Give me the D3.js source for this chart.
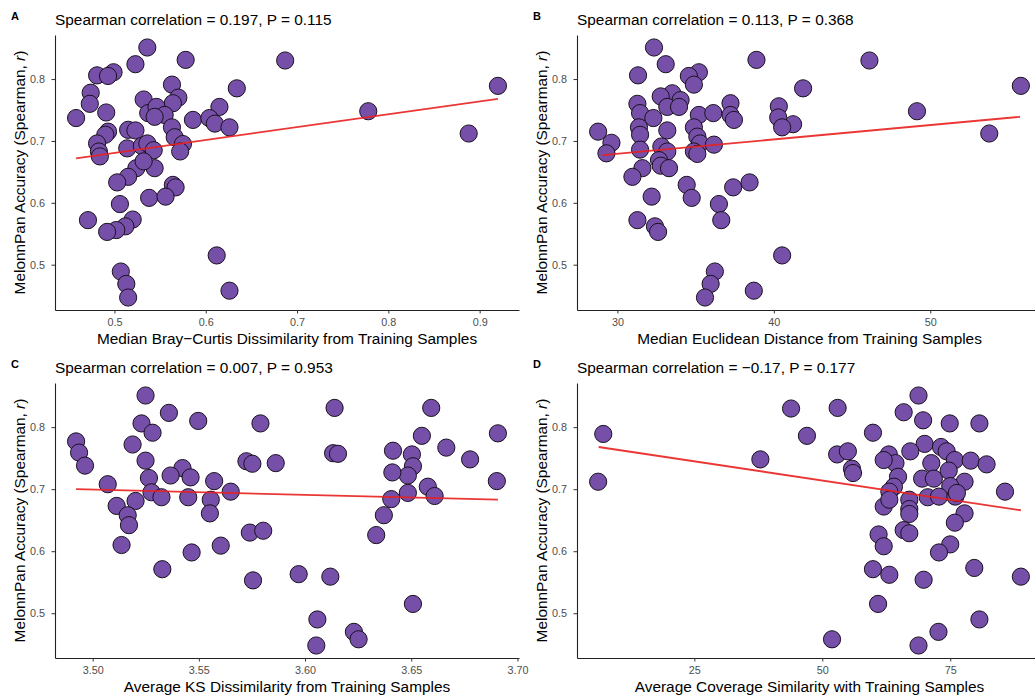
<!DOCTYPE html>
<html>
<head>
<meta charset="utf-8">
<script src="https://cdn.jsdelivr.net/npm/d3@7"></script>
<style>
body{margin:0;background:#fff;}
svg{font-family:"Liberation Sans",Arial,sans-serif;}
.tick text{fill:#4d4d4d;font-size:10.8px;}
.tick line{stroke:#333;stroke-width:1;}
.domain{stroke:#222;stroke-width:1.1;}
.dot{fill:#7650a8;stroke:#1a1020;stroke-width:1;}
.fit{stroke:#e8201f;stroke-width:1.8;fill:none;opacity:0.9;}
.ptitle{font-size:15.4px;fill:#000;}
.atitle{font-size:15.4px;fill:#000;}
.letter{font-size:11px;font-weight:bold;fill:#000;}
</style>
</head>
<body>
<svg></svg>
<script>
// values: [x, accuracy]
var brayPoints=[[0.536,0.851],[0.578,0.831],[0.687,0.830],[0.523,0.824],[0.481,0.806],[0.499,0.811],[0.493,0.805],
	[0.920,0.789],[0.563,0.791],[0.634,0.785],[0.570,0.770],[0.474,0.778],[0.473,0.760],[0.532,0.767],[0.564,0.761],
	[0.491,0.746],[0.458,0.737],[0.537,0.745],[0.546,0.755],[0.555,0.742],[0.544,0.739],[0.586,0.734],[0.615,0.755],
	[0.604,0.737],[0.610,0.728],[0.626,0.722],[0.778,0.748],[0.888,0.712],[0.563,0.722],[0.493,0.715],[0.490,0.710],
	[0.515,0.718],[0.523,0.717],[0.566,0.706],[0.575,0.695],[0.572,0.683],[0.481,0.696],[0.483,0.683],[0.484,0.675],
	[0.514,0.688],[0.530,0.692],[0.536,0.696],[0.543,0.685],[0.524,0.656],[0.544,0.656],[0.532,0.667],[0.515,0.642],
	[0.503,0.633],[0.564,0.629],[0.567,0.625],[0.538,0.608],[0.556,0.610],[0.506,0.598],[0.471,0.572],[0.520,0.573],
	[0.512,0.562],[0.502,0.556],[0.492,0.553],[0.612,0.515],[0.507,0.489],[0.513,0.469],[0.515,0.447],[0.626,0.458]];
var euclidPoints=[[32.34,0.851],[38.89,0.831],[46.11,0.830],[33.09,0.824],[31.32,0.806],[35.21,0.811],[34.57,0.805],
	[34.89,0.791],[55.79,0.789],[41.87,0.785],[33.51,0.777],[34.04,0.766],[32.77,0.772],[33.19,0.755],[33.94,0.755],
	[31.28,0.760],[31.45,0.745],[32.30,0.737],[35.21,0.742],[36.13,0.745],[37.23,0.761],[37.23,0.742],[37.45,0.734],
	[40.32,0.756],[40.28,0.738],[41.23,0.727],[40.53,0.722],[49.15,0.748],[53.77,0.712],[28.77,0.715],[29.62,0.697],
	[29.30,0.680],[31.38,0.722],[31.45,0.710],[33.19,0.717],[34.89,0.722],[35.11,0.707],[35.28,0.696],[36.17,0.694],
	[31.45,0.686],[32.81,0.691],[33.19,0.683],[34.89,0.683],[35.11,0.679],[32.66,0.669],[32.77,0.660],[33.30,0.656],
	[31.60,0.656],[30.96,0.642],[34.43,0.629],[34.75,0.608],[32.19,0.610],[37.40,0.625],[38.45,0.633],[36.49,0.598],
	[36.64,0.572],[31.28,0.572],[32.40,0.562],[32.60,0.553],[40.53,0.515],[36.23,0.489],[35.96,0.469],[35.60,0.447],
	[38.72,0.458]];
var ksPoints=[[3.5249,0.851],[3.6139,0.831],[3.6594,0.831],[3.5359,0.823],[3.5497,0.810],[3.5230,0.806],[3.5790,0.806],
	[3.5282,0.791],[3.6908,0.790],[3.5188,0.772],[3.6550,0.786],[3.4922,0.777],[3.4936,0.759],[3.4964,0.738],[3.6665,0.767],
	[3.6777,0.748],[3.6132,0.758],[3.6155,0.757],[3.6414,0.762],[3.6503,0.756],[3.6508,0.737],[3.6484,0.722],[3.6411,0.727],
	[3.5249,0.746],[3.5724,0.745],[3.5752,0.741],[3.5862,0.742],[3.5423,0.734],[3.5461,0.719],[3.5367,0.722],[3.5265,0.718],
	[3.5572,0.713],[3.5071,0.708],[3.5277,0.695],[3.5324,0.687],[3.5202,0.681],[3.5450,0.687],[3.5556,0.683],[3.5650,0.696],
	[3.5113,0.673],[3.5165,0.658],[3.5171,0.642],[3.5552,0.661],[3.6484,0.694],[3.6578,0.704],[3.6610,0.689],[3.6406,0.684],
	[3.6371,0.658],[3.6335,0.626],[3.6903,0.713],[3.5136,0.610],[3.5740,0.630],[3.5803,0.633],[3.5603,0.609],[3.5466,0.598],
	[3.5328,0.571],[3.5755,0.553],[3.5970,0.563],[3.6119,0.559],[3.6508,0.515],[3.6058,0.490],[3.6053,0.448],[3.6230,0.470],
	[3.6252,0.458]];
var coveragePoints=[[68.8,0.851],[43.9,0.830],[53.0,0.831],[65.9,0.824],[69.7,0.811],[74.9,0.806],[80.7,0.806],
	[7.2,0.789],[47.0,0.786],[59.9,0.791],[70.0,0.773],[52.9,0.756],[55.0,0.761],[37.9,0.748],[6.2,0.712],
	[55.8,0.733],[56.0,0.726],[63.0,0.756],[64.3,0.742],[62.0,0.747],[67.2,0.761],[73.2,0.768],[74.3,0.761],
	[75.9,0.747],[71.3,0.742],[79.0,0.746],[82.1,0.740],[64.8,0.720],[69.5,0.717],[71.8,0.717],[74.7,0.730],
	[77.8,0.712],[75.0,0.705],[85.7,0.696],[64.0,0.704],[63.1,0.696],[62.0,0.672],[63.1,0.683],[67.0,0.683],
	[70.6,0.687],[72.8,0.688],[76.0,0.688],[76.3,0.694],[67.0,0.668],[67.0,0.660],[77.8,0.661],[75.9,0.646],
	[65.9,0.634],[67.0,0.629],[61.0,0.627],[62.0,0.608],[75.0,0.611],[72.8,0.598],[59.9,0.571],[63.1,0.562],
	[69.8,0.554],[79.7,0.573],[88.8,0.559],[60.9,0.515],[80.7,0.490],[72.7,0.470],[51.9,0.458],[68.8,0.448]];

// fitted lines, end points
var brayFit=[[0.458,0.672],[0.920,0.768]];
var euclidFit=[[29.04,0.677],[55.74,0.739]];
var ksFit=[[3.4922,0.700],[3.6908,0.683]];
var coverageFit=[[6.3,0.768],[88.8,0.666]];

var yTicks=[0.5,0.6,0.7,0.8];
var brayTicks=[0.5,0.6,0.7,0.8,0.9];
var euclidTicks=[30,40,50];
var ksTicks=[3.50,3.55,3.60,3.65,3.70];
var coverageTicks=[25,50,75];

var width=1035,height=700;
var svg=d3.select("svg").attr("width",width).attr("height",height);

function expand(ext) {
	var pad=(ext[1]-ext[0])*0.05;
	return [ext[0]-pad,ext[1]+pad];
}

function drawPanel(p) {
	var x=d3.scaleLinear()
		.domain(expand(d3.extent(p.points,function(d) {return d[0];})))
		.range([p.left,p.right]);
	var y=d3.scaleLinear()
		.domain(expand(d3.extent(p.points,function(d) {return d[1];})))
		.range([p.bottom,p.top]);

	svg.append("g")
		.attr("transform","translate(0,"+p.bottom+")")
		.call(d3.axisBottom(x).tickValues(p.ticks).tickFormat(p.fmt).tickSize(3.5).tickSizeOuter(0).tickPadding(5));
	svg.append("g")
		.attr("transform","translate("+p.left+",0)")
		.call(d3.axisLeft(y).tickValues(yTicks).tickFormat(d3.format(".1f")).tickSize(3.5).tickSizeOuter(0).tickPadding(6.5));

	svg.append("g").selectAll(".dot")
		.data(p.points)
		.enter()
		.append("circle")
		.classed("dot",true)
		.attr("cx",function(d) {return x(d[0]);})
		.attr("cy",function(d) {return y(d[1]);})
		.attr("r",8.6);

	svg.append("path")
		.datum(p.fit)
		.classed("fit",true)
		.attr("d",d3.line().x(function(d) {return x(d[0]);}).y(function(d) {return y(d[1]);}));

	svg.append("text").classed("letter",true)
		.attr("x",p.left-44).attr("y",p.top-15)
		.text(p.letter);
	svg.append("text").classed("ptitle",true)
		.attr("x",p.left).attr("y",p.top-10)
		.text(p.title);
	svg.append("text").classed("atitle",true)
		.attr("x",(p.left+Math.min(p.right,width))/2 + (p.right>width ? (p.right-width)/2 : 0)).attr("y",p.bottom+33.5)
		.attr("text-anchor","middle")
		.text(p.xlab);

	var yl=svg.append("text").classed("atitle",true)
		.attr("transform","translate("+(p.left-30)+","+((p.top+p.bottom)/2)+") rotate(-90)")
		.attr("text-anchor","middle");
	yl.append("tspan").text("MelonnPan Accuracy (Spearman, ");
	yl.append("tspan").style("font-style","italic").text("r");
	yl.append("tspan").text(")");
}

var panels=[
	{letter:"A",left:55,right:519,top:35,bottom:310,points:brayPoints,fit:brayFit,ticks:brayTicks,fmt:d3.format(".1f"),
		title:"Spearman correlation = 0.197, P = 0.115",xlab:"Median Bray\u2212Curtis Dissimilarity from Training Samples"},
	{letter:"B",left:577,right:1042,top:35,bottom:310,points:euclidPoints,fit:euclidFit,ticks:euclidTicks,fmt:d3.format("d"),
		title:"Spearman correlation = 0.113, P = 0.368",xlab:"Median Euclidean Distance from Training Samples"},
	{letter:"C",left:55,right:519,top:383,bottom:658,points:ksPoints,fit:ksFit,ticks:ksTicks,fmt:d3.format(".2f"),
		title:"Spearman correlation = 0.007, P = 0.953",xlab:"Average KS Dissimilarity from Training Samples"},
	{letter:"D",left:577,right:1042,top:383,bottom:658,points:coveragePoints,fit:coverageFit,ticks:coverageTicks,fmt:d3.format("d"),
		title:"Spearman correlation = \u22120.17, P = 0.177",xlab:"Average Coverage Similarity with Training Samples"}
];

panels.forEach(drawPanel);
</script>
</body>
</html>
